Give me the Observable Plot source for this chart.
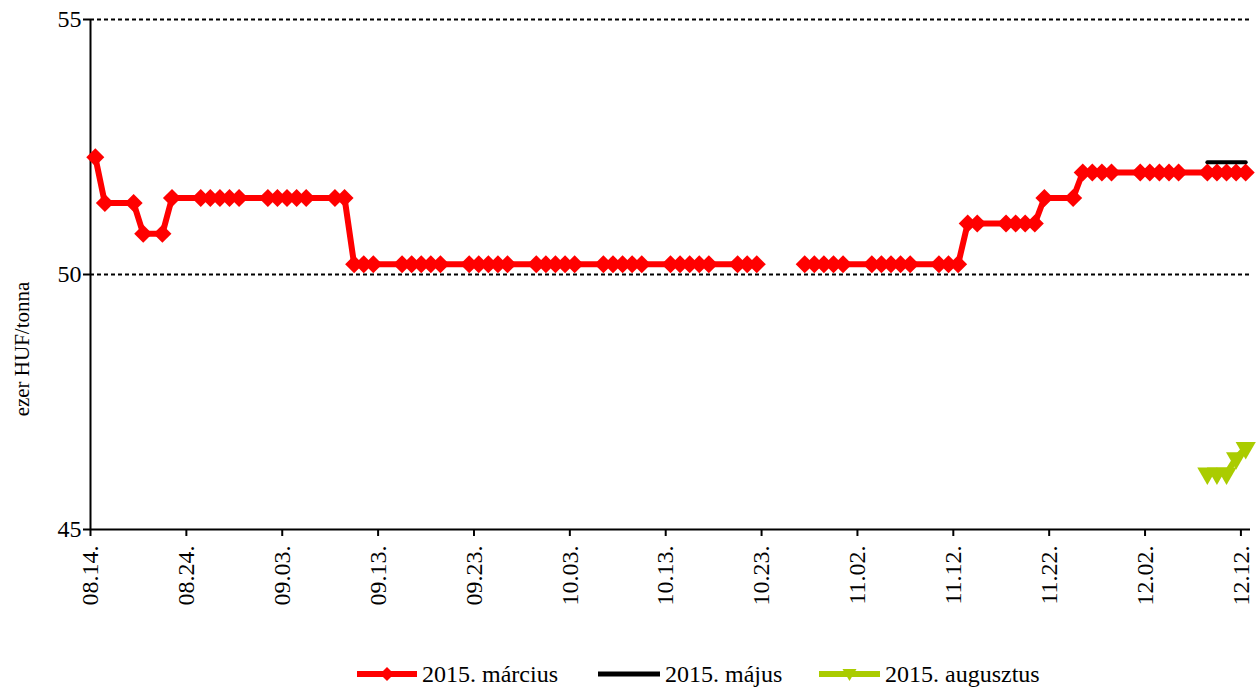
<!DOCTYPE html>
<html><head><meta charset="utf-8">
<script src="https://cdn.jsdelivr.net/npm/d3@7"></script>
<script src="https://cdn.jsdelivr.net/npm/@observablehq/plot@0.6"></script>
<style>
body{margin:0;background:#fff;font-family:"Liberation Serif","Times New Roman",serif;}
#wrap{position:relative;width:1257px;}
#ytitle{position:absolute;left:22px;top:349px;transform:translate(-50%,-50%) rotate(-90deg);font-size:21px;white-space:nowrap;color:#000;}
#legend{position:relative;height:38px;width:1257px;}
.item{position:absolute;top:10px;height:28px;display:flex;align-items:center;font-size:24px;color:#000;white-space:nowrap;}
.item svg{margin-right:5px;}
</style></head><body><div id="wrap"><div id="chart"></div><div id="ytitle"></div></div><div id="legend"></div>
<script>
// ---- data ----
const seriesNames = ["2015. március", "2015. május", "2015. augusztus"];
const yTitle = "ezer HUF/tonna";
const yTicks = [45, 50, 55];
const xTickLabels = ["08.14.","08.24.","09.03.","09.13.","09.23.","10.03.","10.13.","10.23.","11.02.","11.12.","11.22.","12.02.","12.12."];
const redDates = [
"08-14","08-15","08-18","08-19","08-21","08-22",
"08-25","08-26","08-27","08-28","08-29",
"09-01","09-02","09-03","09-04","09-05",
"09-08","09-09","09-10","09-11","09-12",
"09-15","09-16","09-17","09-18","09-19",
"09-22","09-23","09-24","09-25","09-26",
"09-29","09-30","10-01","10-02","10-03",
"10-06","10-07","10-08","10-09","10-10",
"10-13","10-14","10-15","10-16","10-17",
"10-20","10-21","10-22","10-23","10-24",
"10-27","10-28","10-29","10-30","10-31",
"11-03","11-04","11-05","11-06","11-07",
"11-10","11-11","11-12","11-13","11-14",
"11-17","11-18","11-19","11-20","11-21",
"11-24","11-25","11-26","11-27","11-28",
"12-01","12-02","12-03","12-04","12-05",
"12-08","12-09","12-10","12-11","12-12"];
const redValues = [
52.3,51.4,51.4,50.8,50.8,51.5,
51.5,51.5,51.5,51.5,51.5,
51.5,51.5,51.5,51.5,51.5,
51.5,51.5,50.2,50.2,50.2,
50.2,50.2,50.2,50.2,50.2,
50.2,50.2,50.2,50.2,50.2,
50.2,50.2,50.2,50.2,50.2,
50.2,50.2,50.2,50.2,50.2,
50.2,50.2,50.2,50.2,50.2,
50.2,50.2,50.2,null,null,
50.2,50.2,50.2,50.2,50.2,
50.2,50.2,50.2,50.2,50.2,
50.2,50.2,50.2,51.0,51.0,
51.0,51.0,51.0,51.0,51.5,
51.5,52.0,52.0,52.0,52.0,
52.0,52.0,52.0,52.0,52.0,
52.0,52.0,52.0,52.0,52.0];
const blackDates = ["12-08","12-09","12-10","12-11","12-12"];
const blackValues = [52.2,52.2,52.2,52.2,52.2];
const greenDates = ["12-08","12-09","12-10","12-11","12-12"];
const greenValues = [46.1,46.1,46.1,46.4,46.6];
const colors = ["#FF0000", "#000000", "#AACC00"];

// ---- build ----
const atNoon = s => new Date(`2014-${s}T12:00:00Z`);
const tickToDate = s => new Date(`2014-${s.slice(0,2)}-${s.slice(3,5)}T00:00:00Z`);
const red = redDates.map((d,i)=>({date:atNoon(d), value:redValues[i]}));
const black = blackDates.map((d,i)=>({date:atNoon(d), value:blackValues[i]}));
const green = greenDates.map((d,i)=>({date:atNoon(d), value:greenValues[i]}));
const tickDates = xTickLabels.map(tickToDate);
const labelOf = new Map(tickDates.map((d,i)=>[+d, xTickLabels[i]]));
const x0 = new Date(Date.UTC(2014,7,14)), x1 = new Date(Date.UTC(2014,11,13));

const H = 650;
const plot = Plot.plot({
  width: 1257, height: H,
  marginLeft: 90, marginRight: 7, marginTop: 19, marginBottom: H - 529,
  style: {fontFamily: '"Liberation Serif","Times New Roman",serif', fontSize: "24px", color: "#000", background: "#fff", overflow: "visible"},
  x: {type: "utc", domain: [x0, x1]},
  y: {domain: [45, 55]},
  marks: [
    Plot.ruleY([50, 55], {stroke: "#000", strokeWidth: 2, strokeDasharray: "4,3"}),
    Plot.axisY({ticks: yTicks, tickSize: 7, tickPadding: 2, label: null, strokeWidth: 2, strokeOpacity: 1}),
    Plot.axisX({ticks: tickDates, tickFormat: d => labelOf.get(+d), tickRotate: -90, tickSize: 7, tickPadding: 9, label: null, strokeWidth: 2, strokeOpacity: 1}),
    Plot.ruleY([45], {stroke: "#000", strokeWidth: 2}),
    Plot.ruleX([x0], {stroke: "#000", strokeWidth: 2}),
    Plot.line(red, {x: "date", y: "value", stroke: colors[0], strokeWidth: 6}),
    Plot.dot(red.filter(d => d.value != null), {x: "date", y: "value", symbol: "square", rotate: 45, r: 7.2, fill: colors[0]}),
    Plot.line(black, {x: "date", y: "value", stroke: colors[1], strokeWidth: 4}),
    Plot.line(green, {x: "date", y: "value", stroke: colors[2], strokeWidth: 6}),
    Plot.dot(green, {x: "date", y: "value", symbol: "triangle", rotate: 180, r: 7.5, fill: colors[2]})
  ]
});
document.getElementById("chart").append(plot);
document.getElementById("ytitle").textContent = yTitle;

// ---- legend ----
const legend = document.getElementById("legend");
const items = [
  {left: 357, w: 60, marker: "diamond"},
  {left: 598, w: 62, marker: null},
  {left: 819, w: 61, marker: "triangle"}
];
items.forEach((it, i) => {
  const div = document.createElement("div");
  div.className = "item";
  div.style.left = it.left + "px";
  const svg = d3.create("svg").attr("width", it.w).attr("height", 20);
  svg.append("line").attr("x1", 0).attr("x2", it.w).attr("y1", 10).attr("y2", 10)
    .attr("stroke", colors[i]).attr("stroke-width", i === 1 ? 5 : 6);
  const cx = it.w / 2;
  if (it.marker === "diamond") {
    svg.append("path").attr("d", `M${cx},${10-7}L${cx+7},10L${cx},${10+7}L${cx-7},10Z`).attr("fill", colors[i]);
  } else if (it.marker === "triangle") {
    svg.append("path").attr("d", `M${cx-7},${10-5}L${cx+7},${10-5}L${cx},${10+7}Z`).attr("fill", colors[i]);
  }
  div.append(svg.node());
  const span = document.createElement("span");
  span.textContent = seriesNames[i];
  div.append(span);
  legend.append(div);
});
</script></body></html>
